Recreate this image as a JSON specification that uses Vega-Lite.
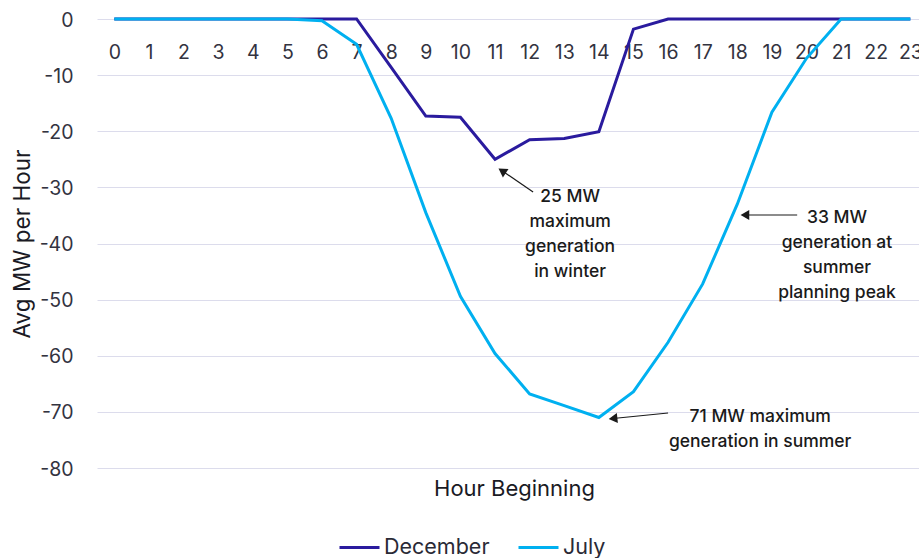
{
  "$schema": "https://vega.github.io/schema/vega-lite/v6.json",
  "width": 822,
  "height": 449,
  "autosize": {"type": "none"},
  "padding": {"left": 97, "top": 19, "right": 0, "bottom": 90},
  "background": "white",
  "config": {
    "view": {"stroke": null},
    "font": "Inter",
    "axis": {"labelOverlap": false, "labelFlush": false}
  },
  "datasets": {
    "series": [
      {"hour": 0, "month": "December", "mw": 0},
      {"hour": 1, "month": "December", "mw": 0},
      {"hour": 2, "month": "December", "mw": 0},
      {"hour": 3, "month": "December", "mw": 0},
      {"hour": 4, "month": "December", "mw": 0},
      {"hour": 5, "month": "December", "mw": 0},
      {"hour": 6, "month": "December", "mw": 0},
      {"hour": 7, "month": "December", "mw": 0},
      {"hour": 8, "month": "December", "mw": -8.6},
      {"hour": 9, "month": "December", "mw": -17.3},
      {"hour": 10, "month": "December", "mw": -17.5},
      {"hour": 11, "month": "December", "mw": -25},
      {"hour": 12, "month": "December", "mw": -21.5},
      {"hour": 13, "month": "December", "mw": -21.3},
      {"hour": 14, "month": "December", "mw": -20.1},
      {"hour": 15, "month": "December", "mw": -1.8},
      {"hour": 16, "month": "December", "mw": 0},
      {"hour": 17, "month": "December", "mw": 0},
      {"hour": 18, "month": "December", "mw": 0},
      {"hour": 19, "month": "December", "mw": 0},
      {"hour": 20, "month": "December", "mw": 0},
      {"hour": 21, "month": "December", "mw": 0},
      {"hour": 22, "month": "December", "mw": 0},
      {"hour": 23, "month": "December", "mw": 0},
      {"hour": 0, "month": "July", "mw": 0},
      {"hour": 1, "month": "July", "mw": 0},
      {"hour": 2, "month": "July", "mw": 0},
      {"hour": 3, "month": "July", "mw": 0},
      {"hour": 4, "month": "July", "mw": 0},
      {"hour": 5, "month": "July", "mw": 0},
      {"hour": 6, "month": "July", "mw": -0.3},
      {"hour": 7, "month": "July", "mw": -4.5},
      {"hour": 8, "month": "July", "mw": -17.7},
      {"hour": 9, "month": "July", "mw": -34.5},
      {"hour": 10, "month": "July", "mw": -49.4},
      {"hour": 11, "month": "July", "mw": -59.6},
      {"hour": 12, "month": "July", "mw": -66.8},
      {"hour": 13, "month": "July", "mw": -68.9},
      {"hour": 14, "month": "July", "mw": -71},
      {"hour": 15, "month": "July", "mw": -66.4},
      {"hour": 16, "month": "July", "mw": -57.6},
      {"hour": 17, "month": "July", "mw": -47.2},
      {"hour": 18, "month": "July", "mw": -33},
      {"hour": 19, "month": "July", "mw": -16.6},
      {"hour": 20, "month": "July", "mw": -7},
      {"hour": 21, "month": "July", "mw": 0},
      {"hour": 22, "month": "July", "mw": 0},
      {"hour": 23, "month": "July", "mw": 0}
    ],
    "notes": [
      {"hour": 13.17, "mw": -32.6, "lines": ["25 MW", "maximum", "generation", "in winter"]},
      {"hour": 20.88, "mw": -36.35, "lines": ["33 MW", "generation at", "summer", "planning peak"]},
      {"hour": 18.66, "mw": -71.75, "lines": ["71 MW maximum", "generation in summer"]}
    ],
    "arrows": [
      {"fromHour": 12.10, "fromMw": -30.82, "toHour": 11.205, "toMw": -27.05, "angle": 304},
      {"fromHour": 19.73, "fromMw": -34.92, "toHour": 18.22, "toMw": -34.92, "angle": 270},
      {"fromHour": 16.0, "fromMw": -70.2, "toHour": 14.41, "toMw": -71.18, "angle": 264}
    ]
  },
  "layer": [
    {
      "data": {"name": "series"},
      "transform": [{"filter": "datum.month === 'December'"}],
      "mark": {"type": "line", "strokeWidth": 3, "strokeJoin": "miter"},
      "encoding": {
        "x": {
          "field": "hour",
          "type": "quantitative",
          "scale": {"domain": [-0.5, 23.25], "nice": false, "zero": false},
          "axis": {
            "orient": "bottom",
            "offset": -449,
            "values": [0, 1, 2, 3, 4, 5, 6, 7, 8, 9, 10, 11, 12, 13, 14, 15, 16, 17, 18, 19, 20, 21, 22, 23],
            "tickCount": 24,
            "labelExpr": "toString(datum.value)",
            "grid": false,
            "domain": false,
            "ticks": false,
            "tickSize": 0,
            "labelPadding": 39,
            "labelBaseline": "alphabetic",
            "labelFontSize": 19.5,
            "labelColor": "#33333f",
            "labelFlush": false,
            "labelOverlap": false,
            "labelBound": false,
            "title": "Hour Beginning",
            "titleFontSize": 22,
            "titleFontWeight": "normal",
            "titleColor": "#1a1a24",
            "titleBaseline": "alphabetic",
            "titleAlign": "center",
            "titleX": 417,
            "titleY": 476
          }
        },
        "y": {
          "field": "mw",
          "type": "quantitative",
          "scale": {"domain": [-80, 0], "nice": false, "zero": false},
          "axis": {
            "values": [-80, -70, -60, -50, -40, -30, -20, -10, 0],
            "tickCount": 9,
            "labelExpr": "toString(datum.value)",
            "grid": true,
            "gridColor": "#dcdcec",
            "gridWidth": 1,
            "domain": false,
            "ticks": false,
            "tickSize": 0,
            "labelPadding": 24,
            "labelFontSize": 19.5,
            "labelColor": "#33333f",
            "labelOffset": 1,
            "title": "Avg MW per Hour",
            "titleFontSize": 22.5,
            "titleFontWeight": "normal",
            "titleColor": "#1a1a24",
            "titleAngle": 270,
            "titleBaseline": "alphabetic",
            "titleX": -68
          }
        },
        "color": {
          "field": "month",
          "type": "nominal",
          "scale": {"domain": ["December", "July"], "range": ["#2a1b9e", "#00b0f0"]},
          "legend": {
            "title": null,
            "orient": "none",
            "direction": "horizontal",
            "legendX": 241,
            "legendY": 507,
            "symbolType": "stroke",
            "symbolSize": 1600,
            "symbolStrokeWidth": 3,
            "labelFontSize": 21.5,
            "labelColor": "#2a2a36",
            "labelOffset": 3,
            "columnPadding": 22
          }
        }
      }
    },
    {
      "data": {"name": "series"},
      "transform": [{"filter": "datum.month === 'July'"}],
      "mark": {"type": "line", "strokeWidth": 3, "strokeJoin": "miter"},
      "encoding": {
        "x": {"field": "hour", "type": "quantitative"},
        "y": {"field": "mw", "type": "quantitative"},
        "color": {"field": "month", "type": "nominal"}
      }
    },
    {
      "data": {"name": "arrows"},
      "mark": {"type": "rule", "color": "#1a1a1a", "strokeWidth": 1.2},
      "encoding": {
        "x": {"field": "fromHour", "type": "quantitative"},
        "y": {"field": "fromMw", "type": "quantitative"},
        "x2": {"field": "toHour"},
        "y2": {"field": "toMw"}
      }
    },
    {
      "data": {"name": "arrows"},
      "mark": {"type": "point", "shape": "triangle-up", "filled": true, "color": "#1a1a1a", "size": 100, "opacity": 1},
      "encoding": {
        "x": {"field": "toHour", "type": "quantitative"},
        "y": {"field": "toMw", "type": "quantitative"},
        "angle": {"field": "angle", "type": "quantitative", "scale": null}
      }
    },
    {
      "data": {"name": "notes"},
      "mark": {"type": "text", "align": "center", "baseline": "alphabetic", "fontSize": 17.5, "fontWeight": 500, "lineHeight": 25, "color": "#1a1a1a"},
      "encoding": {
        "x": {"field": "hour", "type": "quantitative"},
        "y": {"field": "mw", "type": "quantitative"},
        "text": {"field": "lines", "type": "nominal"}
      }
    }
  ]
}
